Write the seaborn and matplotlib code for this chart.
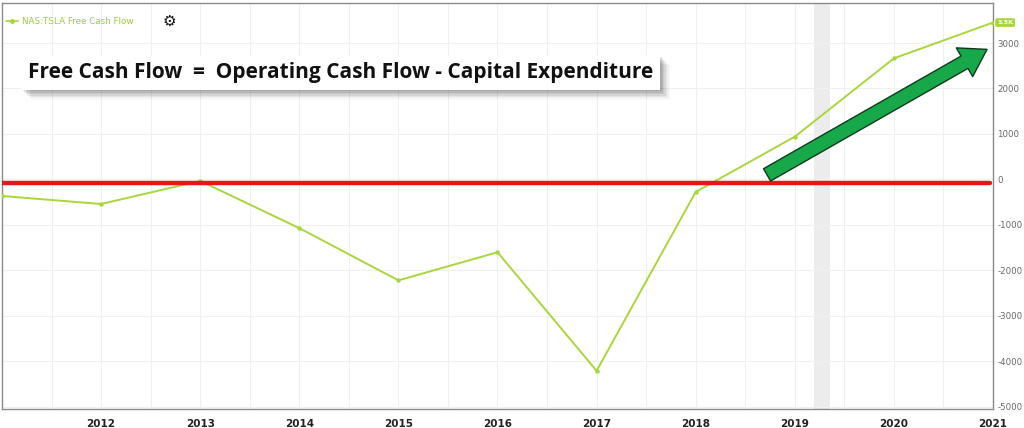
import matplotlib
matplotlib.use("Agg")
import matplotlib.pyplot as plt
import matplotlib.patheffects as pe
import seaborn as sns
import pandas as pd
import numpy as np

years = [2011, 2012, 2013, 2014, 2015, 2016, 2017, 2018, 2019, 2020, 2021]
fcf = [-365, -541, -33, -1072, -2221, -1602, -4210, -276, 939, 2663, 3450]
xtick_years = [2012, 2013, 2014, 2015, 2016, 2017, 2018, 2019, 2020, 2021]
yticks = [3000, 2000, 1000, 0, -1000, -2000, -3000, -4000, -5000]
series_name = "NAS:TSLA Free Cash Flow"
last_tag = "3.5K"
formula = "Free Cash Flow  =  Operating Cash Flow - Capital Expenditure"
zero_ref = -90
band = (2019.19, 2019.36)

df = pd.DataFrame({"year": years, "fcf": fcf})

sns.set_theme(style="white")
plt.rcParams['font.family'] = ['DejaVu Sans']

fig = plt.figure(figsize=(10.24, 4.28), dpi=100)
ax = fig.add_axes([2/1024, (428-409)/428, (993-2)/1024, (409-3)/428])

line_col = "#a9d63c"
ax.axvspan(band[0], band[1], color="#ececec", zorder=0, lw=0)

sns.lineplot(data=df, x="year", y="fcf", ax=ax, color=line_col, lw=1.4,
             marker="o", markersize=3.2, markeredgewidth=0, zorder=3)

ax.axhline(zero_ref, xmin=0, xmax=0.997, color="#e8161b", lw=3.2, zorder=4)

ax.set_xlim(2011.0, 2021.0)
ax.set_ylim(-5050, 3880)

# grid
ax.set_xticks(xtick_years)
ax.set_xticks(np.arange(2011.5, 2021, 1.0), minor=True)
ax.set_yticks(yticks)
ax.grid(True, which="both", axis="x", color="#f0f0f0", lw=0.8, zorder=0)
ax.grid(True, which="major", axis="y", color="#f0f0f0", lw=0.8, zorder=0)
ax.set_axisbelow(True)

ax.yaxis.tick_right()
ax.tick_params(axis="y", which="both", length=0, pad=3, labelsize=6.2, labelcolor="#666666")
ax.tick_params(axis="x", which="both", length=0, pad=7, labelsize=7.5, labelcolor="#222222")
ax.set_yticklabels([str(v) for v in yticks])
ax.set_xticklabels([str(v) for v in xtick_years], fontweight="bold")
ax.set_xlabel("")
ax.set_ylabel("")

for s in ax.spines.values():
    s.set_color("#8a8a8a")
    s.set_linewidth(1.0)

# legend-like label
ax.plot([0.004, 0.016], [0.955, 0.955], transform=ax.transAxes, color=line_col, lw=1.2, clip_on=False)
ax.plot([0.010], [0.955], transform=ax.transAxes, color=line_col, marker="o", ms=2.5, clip_on=False)
ax.text(0.02, 0.955, series_name, transform=ax.transAxes, fontsize=6.3, color="#9ccc3c",
        va="center", ha="left")
ax.text(0.162, 0.955, "\u2699", transform=ax.transAxes, fontsize=11, color="#111111",
        va="center", ha="left", fontweight="bold")

# last value tag
ax.annotate(last_tag, xy=(1.0, fcf[-1]), xycoords=("axes fraction", "data"),
            xytext=(3, 0), textcoords="offset points", fontsize=4.5, color="white",
            fontweight="bold", va="center", ha="left", annotation_clip=False,
            bbox=dict(boxstyle="round,pad=0.3,rounding_size=0.3", fc="#a9d63c", ec="none"))

# formula box
t = ax.text(0.342, 0.828, formula, transform=ax.transAxes, fontsize=15,
            fontfamily="Open Sans", fontweight="bold", color="#111111",
            ha="center", va="center", zorder=6,
            bbox=dict(boxstyle="square,pad=0.32", fc="white", ec="none"))
shadows = []
for off, a in [((1, -1), 0.10), ((2, -2), 0.10), ((3, -3), 0.09), ((4, -4), 0.08),
               ((5, -5), 0.06), ((6, -6), 0.04), ((7, -7), 0.03)]:
    shadows.append(pe.SimplePatchShadow(offset=off, alpha=a, shadow_rgbFace="#333333"))
t.get_bbox_patch().set_path_effects(shadows + [pe.Normal()])

# green arrow
ax.annotate("", xy=(2020.94, 2860), xytext=(2018.72, 100),
            arrowprops=dict(arrowstyle="simple,head_width=1.4,head_length=1.1,tail_width=0.6",
                            mutation_scale=17, fc="#17a84a", ec="#0d3a1a", lw=1.0,
                            shrinkA=0, shrinkB=0), zorder=7)

fig.savefig("out.png", dpi=100)
